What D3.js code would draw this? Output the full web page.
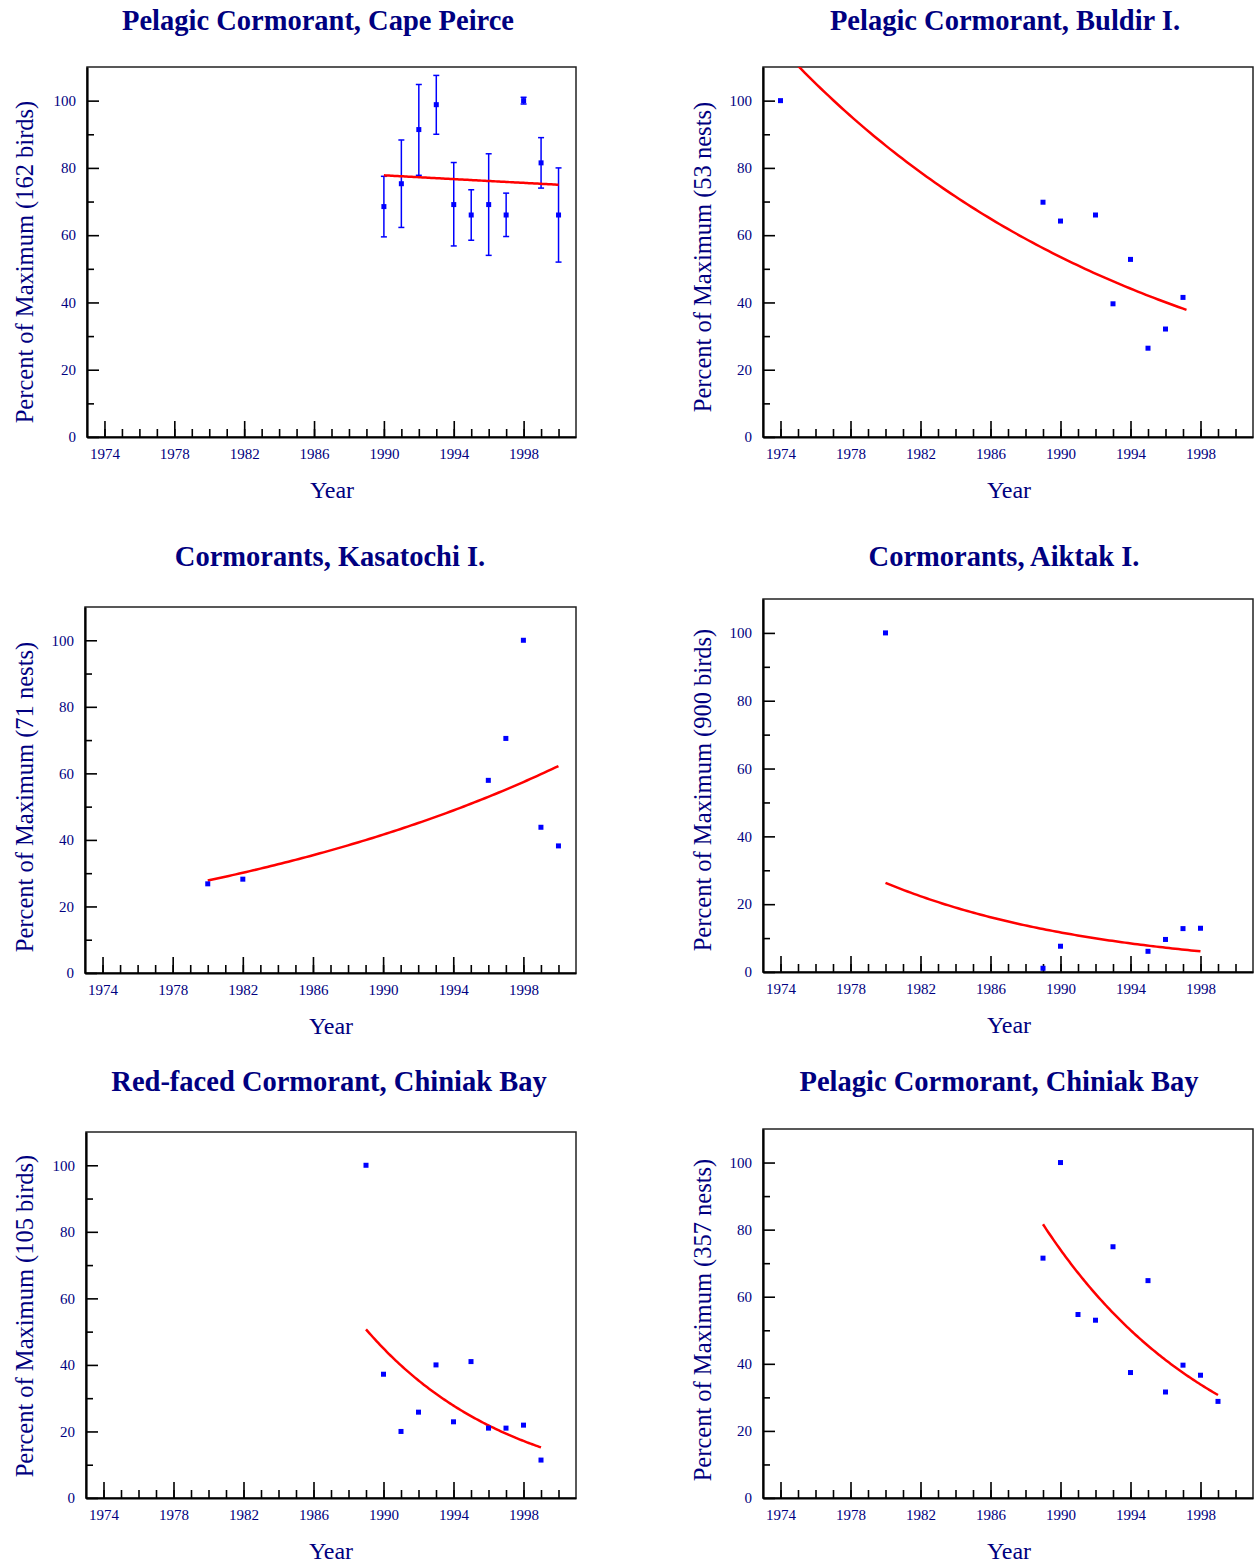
<!DOCTYPE html>
<html>
<head>
<meta charset="utf-8">
<script src="https://cdn.jsdelivr.net/npm/d3@7"></script>
<style>
  body { margin: 0; background: #fff; }
  svg { display: block; }
  text { font-family: "Liberation Serif", "Times New Roman", serif; fill: #000080; }
</style>
</head>
<body>
<svg width="1254" height="1565"></svg>
<script>
const svg = d3.select('svg');

// Panel titles and axis labels
const titles = [
    'Pelagic Cormorant, Cape Peirce',
    'Pelagic Cormorant, Buldir I.',
    'Cormorants, Kasatochi I.',
    'Cormorants, Aiktak I.',
    'Red-faced Cormorant, Chiniak Bay',
    'Pelagic Cormorant, Chiniak Bay'
];
const yLabels = [
    'Percent of Maximum (162 birds)',
    'Percent of Maximum (53 nests)',
    'Percent of Maximum (71 nests)',
    'Percent of Maximum (900 birds)',
    'Percent of Maximum (105 birds)',
    'Percent of Maximum (357 nests)'
];

// Tick values
const yearTicks = [1974, 1978, 1982, 1986, 1990, 1994, 1998];
const pctTicks = [0, 20, 40, 60, 80, 100];

// Cape Peirce (with error bars)
const capeYears = [1990, 1991, 1992, 1993, 1994, 1995, 1996, 1997, 1998, 1999, 2000];
const capeValues = [68.5, 75.3, 91.4, 98.8, 69.1, 66.0, 69.1, 66.0, 100, 81.5, 66.0];
const capeLow = [59.5, 62.3, 77.8, 90.0, 56.8, 58.5, 54.0, 59.6, 99.0, 74.0, 52.0];
const capeHigh = [77.5, 88.3, 104.8, 107.5, 81.6, 73.5, 84.2, 72.5, 101.0, 89.0, 80.0];

// Buldir I.
const buldirYears = [1974, 1989, 1990, 1992, 1993, 1994, 1995, 1996, 1997];
const buldirValues = [100, 69.8, 64.2, 66.0, 39.6, 52.8, 26.4, 32.1, 41.5];

// Kasatochi I.
const kasatochiYears = [1980, 1982, 1996, 1997, 1998, 1999, 2000];
const kasatochiValues = [26.8, 28.2, 57.9, 70.5, 100, 43.8, 38.2];

// Aiktak I.
const aiktakYears = [1980, 1989, 1990, 1995, 1996, 1997, 1998];
const aiktakValues = [100, 1.1, 7.6, 6.1, 9.6, 12.8, 12.9];

// Red-faced, Chiniak Bay
const redfacedYears = [1989, 1990, 1991, 1992, 1993, 1994, 1995, 1996, 1997, 1998, 1999];
const redfacedValues = [100, 37.2, 20.0, 25.8, 40.0, 22.9, 41.0, 21.0, 21.0, 21.9, 11.4];

// Pelagic, Chiniak Bay
const chiniakYears = [1989, 1990, 1991, 1992, 1993, 1994, 1995, 1996, 1997, 1998, 1999];
const chiniakValues = [71.5, 100, 54.7, 53.0, 74.9, 37.4, 64.8, 31.6, 39.6, 36.6, 28.8];

// Fitted exponential trends: [first year, last year, value at first, value at last]
const capeTrend = [1990, 2000, 77.8, 75.0];
const buldirTrend = [1974, 1997.2, 115.8, 37.8];
const kasatochiTrend = [1980, 2000, 27.8, 62.2];
const aiktakTrend = [1980, 1998, 26.3, 6.1];
const redfacedTrend = [1989, 1999, 50.7, 15.2];
const chiniakTrend = [1989, 1999, 81.6, 30.7];

// Layout of each panel
const panels = [
    { box: [87, 67, 576, 437], years: capeYears, values: capeValues, low: capeLow, high: capeHigh, trend: capeTrend, tx: 318, ty: 20, lx: 24, ly: 262, xl: 332 },
    { box: [763, 67, 1253, 437], years: buldirYears, values: buldirValues, trend: buldirTrend, tx: 1005, ty: 20, lx: 702, ly: 257, xl: 1009 },
    { box: [85, 607, 576, 973], years: kasatochiYears, values: kasatochiValues, trend: kasatochiTrend, tx: 330, ty: 556, lx: 24, ly: 797, xl: 331 },
    { box: [763, 599, 1253, 972], years: aiktakYears, values: aiktakValues, trend: aiktakTrend, tx: 1004, ty: 556, lx: 702, ly: 790, xl: 1009 },
    { box: [86, 1132, 576, 1498], years: redfacedYears, values: redfacedValues, trend: redfacedTrend, tx: 329, ty: 1081, lx: 24, ly: 1316, xl: 331 },
    { box: [763, 1129, 1253, 1498], years: chiniakYears, values: chiniakValues, trend: chiniakTrend, tx: 999, ty: 1081, lx: 702, ly: 1320, xl: 1009 }
];

panels.forEach(function(p, i) {
    const [x0, y0, x1, y1] = p.box;
    const x = d3.scaleLinear().domain([1973, 2001]).range([x0, x1]);
    const y = d3.scaleLinear().domain([0, 110]).range([y1, y0]);

    const g = svg.append('g');

    // title
    g.append('text')
        .attr('x', p.tx)
        .attr('y', p.ty)
        .attr('dy', '0.35em')
        .attr('text-anchor', 'middle')
        .style('font-size', '28.5px')
        .style('font-weight', 'bold')
        .text(titles[i]);

    // y label
    g.append('text')
        .attr('transform', 'translate(' + p.lx + ',' + p.ly + ') rotate(-90)')
        .attr('dy', '0.35em')
        .attr('text-anchor', 'middle')
        .style('font-size', '24.5px')
        .text(yLabels[i]);

    // x label
    g.append('text')
        .attr('x', p.xl)
        .attr('y', y1 + 53)
        .attr('dy', '0.35em')
        .attr('text-anchor', 'middle')
        .style('font-size', '24px')
        .text('Year');

    // frame
    g.append('rect')
        .attr('x', x0)
        .attr('y', y0)
        .attr('width', x1 - x0)
        .attr('height', y1 - y0)
        .attr('fill', 'none')
        .attr('stroke', '#222')
        .attr('stroke-width', 1.5);

    // minor ticks
    g.append('g')
        .attr('transform', 'translate(0,' + y1 + ')')
        .call(d3.axisBottom(x).tickValues(d3.range(1974, 2001)).tickSize(-8).tickFormat(''))
        .call(a => a.select('.domain').remove());
    g.append('g')
        .attr('transform', 'translate(' + x0 + ',0)')
        .call(d3.axisLeft(y).tickValues(d3.range(10, 101, 20)).tickSize(-7).tickFormat(''))
        .call(a => a.select('.domain').remove());

    // major ticks with labels
    const xAxis = g.append('g')
        .attr('transform', 'translate(0,' + y1 + ')')
        .call(d3.axisBottom(x).tickValues(yearTicks).tickFormat(d3.format('d'))
            .tickSize(-16).tickPadding(11).tickSizeOuter(0));
    const yAxis = g.append('g')
        .attr('transform', 'translate(' + x0 + ',0)')
        .call(d3.axisLeft(y).tickValues(pctTicks).tickSize(-12).tickPadding(11).tickSizeOuter(0));

    [xAxis, yAxis].forEach(function(a) {
        a.selectAll('text')
            .style('font-size', '15px')
            .style('font-family', '"Liberation Serif", serif')
            .attr('fill', '#1a1a8c');
        a.select('.domain').attr('stroke', '#000').attr('stroke-width', 2.2);
    });
    g.selectAll('.tick line').attr('stroke', '#000').attr('stroke-width', 1.6);

    // clip
    const clipId = 'clip' + i;
    g.append('clipPath').attr('id', clipId)
        .append('rect')
        .attr('x', x0).attr('y', y0)
        .attr('width', x1 - x0).attr('height', y1 - y0);

    const points = p.years.map((yr, k) => ({ year: yr, value: p.values[k], low: p.low ? p.low[k] : null, high: p.high ? p.high[k] : null }));

    // error bars
    if (p.low) {
        const eb = g.append('g').attr('stroke', '#0000ff').attr('stroke-width', 1.5);
        eb.selectAll('line.bar')
            .data(points)
            .enter()
            .append('line')
            .attr('x1', d => x(d.year))
            .attr('x2', d => x(d.year))
            .attr('y1', d => y(d.low))
            .attr('y2', d => y(d.high));
        ['low', 'high'].forEach(function(k) {
            eb.selectAll('line.cap-' + k)
                .data(points)
                .enter()
                .append('line')
                .attr('x1', d => x(d.year) - 3)
                .attr('x2', d => x(d.year) + 3)
                .attr('y1', d => y(d[k]))
                .attr('y2', d => y(d[k]));
        });
    }

    // trend curve (exponential through the fitted end values)
    const [t0, t1, v0, v1] = p.trend;
    const rate = Math.log(v1 / v0) / (t1 - t0);
    const curve = d3.range(0, 101).map(k => {
        const t = t0 + (t1 - t0) * k / 100;
        return [t, v0 * Math.exp(rate * (t - t0))];
    });
    g.append('path')
        .datum(curve)
        .attr('clip-path', 'url(#' + clipId + ')')
        .attr('fill', 'none')
        .attr('stroke', '#ff0000')
        .attr('stroke-width', 2.5)
        .attr('d', d3.line().x(d => x(d[0])).y(d => y(d[1])));

    // points
    g.selectAll('rect.pt')
        .data(points)
        .enter()
        .append('rect')
        .attr('x', d => x(d.year) - 2.5)
        .attr('y', d => y(d.value) - 2.5)
        .attr('width', 5)
        .attr('height', 5)
        .attr('fill', '#0000ff');
});
</script>
</body>
</html>
